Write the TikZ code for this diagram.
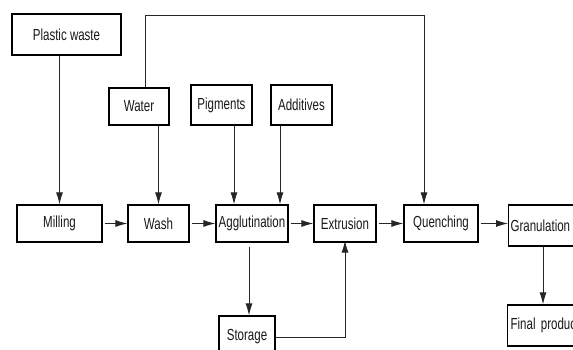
\documentclass[tikz,border=0pt]{standalone}
\usepackage{fontspec}
\setmainfont[FakeStretch=0.72]{Liberation Sans}
\usetikzlibrary{arrows.meta,calc}
\begin{document}
\begin{tikzpicture}[x=1pt,y=1pt,
  box/.style={draw=black,line width=1.2pt,fill=white,font=\fontsize{16}{18}\selectfont,text=black!90,inner sep=2pt},
  conn/.style={draw=black!85,line width=0.9pt},
  arr/.style={conn,-{Latex[length=12pt,width=7pt]}}]
\useasboundingbox (0,0) rectangle (573,349);
\clip (0,0) rectangle (573,349);
% nodes
\node[box,minimum width=109pt,minimum height=41pt] (plastic) at (66.5,314.5) {Plastic waste};
\node[box,minimum width=60pt,minimum height=37pt] (water) at (139,242.5) {Water};
\node[box,minimum width=61pt,minimum height=40pt] (pig) at (221.5,244) {Pigments};
\node[box,minimum width=61pt,minimum height=40pt] (add) at (301.5,244) {Additives};
\node[box,minimum width=85pt,minimum height=37pt] (mill) at (59.5,125.5) {Milling};
\node[box,minimum width=61pt,minimum height=37pt] (wash) at (158.5,125.5) {Wash};
\node[box,minimum width=72pt,minimum height=37pt] (aggl) at (252,125.5) {Agglutination};
\node[box,minimum width=62pt,minimum height=37pt] (extr) at (345,125.5) {Extrusion};
\node[box,minimum width=74pt,minimum height=37pt] (quen) at (441,125.5) {Quenching};
\node[box,anchor=west,text width=82pt,align=left,inner xsep=2pt,minimum height=41pt] (gran) at (508,123.5) {Granulation};
\node[box,anchor=west,text width=86pt,align=left,inner xsep=3pt,minimum height=41pt] (final) at (507,23.5) {Final product};
\node[box,minimum width=56pt,minimum height=42pt] (stor) at (247,12) {Storage};
% connectors
\draw[arr] (mill.north |- plastic.south) -- (mill.north);
\draw[arr] (water.south -| wash.north) -- (wash.north);
\draw[arr] ([xshift=12.5pt]pig.south) -- ([xshift=12.5pt]pig.south |- aggl.north);
\draw[arr] ([xshift=-21.5pt]add.south) -- ([xshift=-21.5pt]add.south |- aggl.north);
\coordinate (tl) at ([xshift=6pt]water.north |- 0,334);
\coordinate (tr) at ([xshift=-17pt]quen.north |- 0,334);
\draw[arr] ([xshift=6pt]water.north) -- (tl) -- (tr) -- ([xshift=-17pt]quen.north);
\draw[arr,shorten <=2pt] (mill.east) -- (wash.west);
\draw[arr,shorten <=2pt] (wash.east) -- (aggl.west);
\draw[arr,shorten <=2pt] (aggl.east) -- (extr.west);
\draw[arr,shorten <=2pt] (extr.east) -- (quen.west);
\draw[arr,shorten <=2pt] (quen.east) -- (quen.east -| gran.west);
\draw[arr,shorten <=4pt] ([xshift=-3pt]aggl.south) -- ([xshift=-3pt]aggl.south |- stor.north);
\draw[arr,shorten >=-2pt] (stor.east) -| (extr.south);
\draw[arr] ([xshift=35pt]gran.south west) -- ([xshift=35pt]gran.south west |- final.north);
\end{tikzpicture}
\end{document}
